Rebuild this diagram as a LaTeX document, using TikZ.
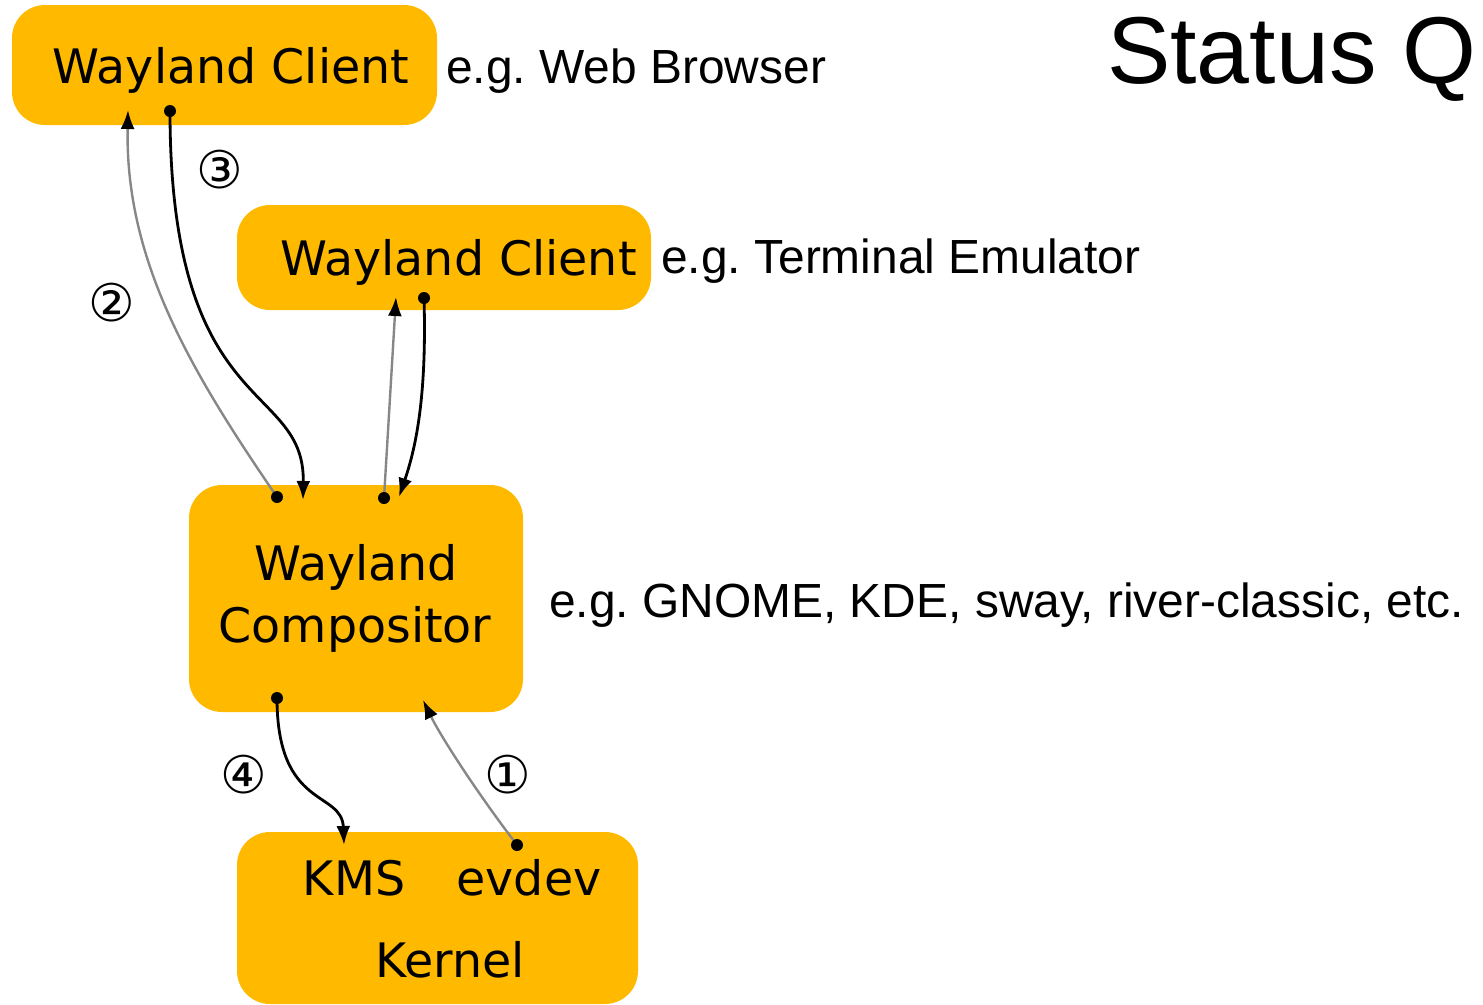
\documentclass[tikz,border=0pt]{standalone}
\usepackage{fontspec}
\setmainfont{Liberation Sans}
\newfontfamily\boxfont{DejaVu Sans}
\usetikzlibrary{arrows.meta}
\frenchspacing

\definecolor{boxgold}{HTML}{FFBA00}
\definecolor{flowgray}{RGB}{135,135,135}

\tikzset{
  layer/.style={fill=boxgold, draw=none, rounded corners=33pt, inner sep=0pt},
  boxtext/.style={inner sep=0pt, anchor=base, font=\boxfont\fontsize{47.5}{57}\selectfont},
  note/.style={inner sep=0pt, anchor=base west, font=\fontsize{47.9}{57}\selectfont},
  stepnum/.style={inner sep=0pt, font=\boxfont\fontsize{52}{56}\selectfont},
  request/.style={line width=2.8pt, black, -{Latex[length=19pt,width=14pt]}},
  event/.style={line width=2.4pt, flowgray, -{Latex[length=19pt,width=14pt,color=black]}},
  port/.style={black},
}

\begin{document}
\begin{tikzpicture}[x=1pt,y=-1pt]
\useasboundingbox (0,0) rectangle (1483,1004);
\clip (0,0) rectangle (1483,1004);

% layers
\node[layer, minimum width=425pt, minimum height=120pt] (browser) at (224.5,65) {};
\node[layer, minimum width=414pt, minimum height=105pt] (term) at (444,257.5) {};
\node[layer, minimum width=334pt, minimum height=227pt] (comp) at (356,598.5) {};
\node[layer, minimum width=401pt, minimum height=172pt] (kernel) at (437.5,918) {};

% layer captions
\node[boxtext] (browsertxt) at (231,83.5) {Wayland Client};
\node[boxtext] (termtxt) at (458.5,275) {Wayland Client};
\node[boxtext] (comptxt1) at (356,580) {Wayland};
\node[boxtext] (comptxt2) at (355,642) {Compositor};
\node[boxtext] (kms) at (354,895) {KMS};
\node[boxtext] (evdev) at (529,895) {evdev};
\node[boxtext] (kerneltxt) at (450,977) {Kernel};

% side notes
\node[note] (browsernote) at (446,83) {e.g. Web Browser};
\node[note] (termnote) at (661,273) {e.g. Terminal Emulator};
\node[note] (compnote) at (549,617) {e.g. GNOME, KDE, sway, river-classic, etc.};
\node[inner sep=0pt, anchor=base west, font=\fontsize{95}{105}\selectfont] (title) at (1107,83) {Status Q};

% connection points
\coordinate (b2out) at (277,497);  \coordinate (b2in) at (128,110);
\coordinate (b3out) at (170,111);  \coordinate (b3in) at (303,500);
\coordinate (t2out) at (384,498);  \coordinate (t2in) at (396,297);
\coordinate (t3out) at (424,298);  \coordinate (t3in) at (399,497);
\coordinate (k4out) at (277,698);  \coordinate (k4in) at (344,845);
\coordinate (k1out) at (517,845);  \coordinate (k1in) at (423,700);

% flows
\draw[event] (b2out) .. controls (190,370) and (125,260) .. (b2in);
\draw[request] (b3out) .. controls (170,420) and (305,380) .. (b3in);
\draw[event] (t2out) -- (t2in);
\draw[request] (t3out) .. controls (427,400) and (415,450) .. (t3in);
\draw[request] (k4out) .. controls (277,810) and (342,790) .. (k4in);
\draw[event] (k1out) .. controls (475,790) and (440,735) .. (k1in);

\foreach \p in {b2out,b3out,t2out,t3out,k4out,k1out}
  \fill[port] (\p) circle (6pt);

% step numbers
\node[stepnum] (s1) at (508,775) {①};
\node[stepnum] (s2) at (112,303) {②};
\node[stepnum] (s3) at (220,170) {③};
\node[stepnum] (s4) at (244,775) {④};
\end{tikzpicture}
\end{document}
